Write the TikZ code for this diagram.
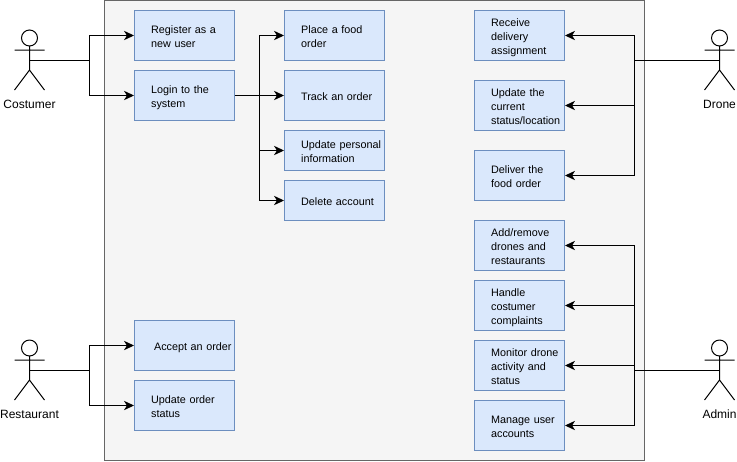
\documentclass[tikz,border=0pt]{standalone}
\usepackage{fontspec}
\setmainfont{Liberation Sans}
\usetikzlibrary{arrows.meta}

\definecolor{sysfill}{HTML}{F5F5F5}
\definecolor{sysline}{HTML}{666666}
\definecolor{ucfill}{HTML}{DAE8FC}
\definecolor{ucline}{HTML}{6C8EBF}

\tikzset{
  usecase/.style={draw=ucline,fill=ucfill,line width=0.75pt,inner sep=0pt,
    minimum height=#1*0.75pt,align=left,
    font=\fontsize{8.1}{10.5}\selectfont,
    execute at begin node={\hyphenpenalty=10000 \leftskip=12.5pt \rule{0pt}{8.8pt}},
    execute at end node={\rule[-2pt]{0pt}{2pt}}},
  usecase/.default=50,
  wide/.style={text width=75pt},
  narrow/.style={text width=67.5pt},
  link/.style={line width=0.75pt,-{Stealth[length=7.5pt,width=7pt,inset=2.2pt]}},
  stem/.style={line width=0.75pt},
  actorlabel/.style={font=\fontsize{9}{11}\selectfont,inner sep=0pt},
  actor/.pic={
    \draw[line width=0.75pt] (0,8) circle (8);
    \draw[line width=0.75pt] (0,16) -- (0,40) (-15,20) -- (15,20)
      (-15,60) -- (0,40) -- (15,60);
    \coordinate (-hip) at (0,30);
  }
}

\begin{document}
\begin{tikzpicture}[x=0.75pt,y=-0.75pt]
  \useasboundingbox (0,0) rectangle (737,461);
  % system
  \draw[fill=sysfill,draw=sysline,line width=0.75pt] (104.5,0.5) rectangle (644.5,460.5);

  % actors
  \pic (costumer) at (29.5,30) {actor};
  \pic (restaurant) at (29.5,340) {actor};
  \pic (drone) at (719.5,30) {actor};
  \pic (admin) at (719.5,340) {actor};
  \node[actorlabel] (costumerlabel) at (29.5,104) {Costumer};
  \node[actorlabel] (restaurantlabel) at (29.5,414) {Restaurant};
  \node[actorlabel] (dronelabel) at (719.5,104) {Drone};
  \node[actorlabel] (adminlabel) at (719.5,414) {Admin};

  % costumer
  \node[usecase,wide] (register) at (184.5,35.5) {Register as a\\new user};
  \node[usecase,wide] (login) at (184.5,95.5) {Login to the\\system};
  \node[usecase,wide] (place) at (334.5,35.5) {Place a food\\order};
  \node[usecase,wide] (track) at (334.5,95.5) {Track an order};
  \node[usecase=40,wide] (personal) at (334.5,150.5) {Update personal\\information};
  \node[usecase=40,wide] (delete) at (334.5,200.5) {Delete account};

  % restaurant
  \node[usecase,wide] (accept) at (184.5,345.5) {\hspace*{2.2pt}Accept an order};
  \node[usecase,wide] (orderstatus) at (184.5,405.5) {Update order\\status};

  % drone
  \node[usecase,narrow] (receive) at (519.5,35.5) {Receive\\delivery\\assignment};
  \node[usecase,narrow] (location) at (519.5,105.5) {Update the\\current\\status/location};
  \node[usecase,narrow] (deliver) at (519.5,175.5) {Deliver the\\food order};

  % admin
  \node[usecase,narrow] (addremove) at (519.5,245.5) {Add/remove\\drones and\\restaurants};
  \node[usecase,narrow] (complaints) at (519.5,305.5) {Handle\\costumer\\complaints};
  \node[usecase,narrow] (monitor) at (519.5,365.5) {Monitor drone\\activity and\\status};
  \node[usecase,narrow] (accounts) at (519.5,425.5) {Manage user\\accounts};

  % branch points
  \coordinate (costumerbus) at (89.5,60);
  \coordinate (restaurantbus) at (89.5,370);
  \coordinate (dronebus) at (634.5,60);
  \coordinate (adminbus) at (634.5,370);
  \coordinate (loginbus) at (259.5,95.5);

  % connectors
  \draw[stem] (costumer-hip) -- (costumerbus);
  \draw[link] (costumerbus) |- (register);
  \draw[link] (costumerbus) |- (login);
  \draw[link] (login) -- (track);
  \draw[link] (loginbus) |- (place);
  \draw[link] (loginbus) |- (personal);
  \draw[link] (loginbus) |- (delete);

  \draw[stem] (restaurant-hip) -- (restaurantbus);
  \draw[link] (restaurantbus) |- (accept);
  \draw[link] (restaurantbus) |- (orderstatus);

  \draw[stem] (drone-hip) -- (dronebus);
  \draw[link] (dronebus) |- (receive);
  \draw[link] (dronebus) |- (location);
  \draw[link] (dronebus) |- (deliver);

  \draw[stem] (admin-hip) -- (adminbus);
  \draw[link] (adminbus) |- (addremove);
  \draw[link] (adminbus) |- (complaints);
  \draw[link] (adminbus) |- (monitor);
  \draw[link] (adminbus) |- (accounts);
\end{tikzpicture}
\end{document}
